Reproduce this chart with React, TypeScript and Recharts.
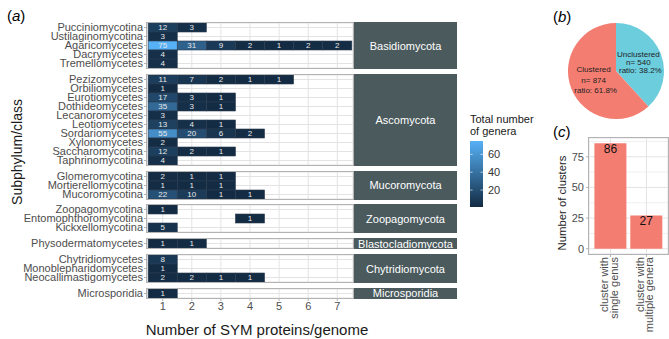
import React from 'react';
import {
  ScatterChart, Scatter, XAxis, YAxis, CartesianGrid,
  PieChart, Pie, Cell, BarChart, Bar, LabelList,
} from 'recharts';

// ---- data ----
const proteinCounts = [1, 2, 3, 4, 5, 6, 7];

const phyla = [
  'Basidiomycota', 'Ascomycota', 'Mucoromycota', 'Zoopagomycota',
  'Blastocladiomycota', 'Chytridiomycota', 'Microsporidia',
];

const basidiomycotaClasses = ['Pucciniomycotina', 'Ustilaginomycotina', 'Agaricomycetes', 'Dacrymycetes', 'Tremellomycetes'];
const basidiomycotaCounts = [[12, 3], [3], [75, 31, 9, 2, 1, 2, 2], [4], [4]];

const ascomycotaClasses = [
  'Pezizomycetes', 'Orbiliomycetes', 'Eurotiomycetes', 'Dothideomycetes', 'Lecanoromycetes',
  'Leotiomycetes', 'Sordariomycetes', 'Xylonomycetes', 'Saccharomycotina', 'Taphrinomycotina',
];
const ascomycotaCounts = [[11, 7, 2, 1, 1], [1], [17, 3, 1], [35, 3, 1], [3], [13, 4, 1], [55, 20, 6, 2], [2], [12, 2, 1], [4]];

const mucoromycotaClasses = ['Glomeromycotina', 'Mortierellomycotina', 'Mucoromycotina'];
const mucoromycotaCounts = [[2, 1, 1], [1, 1, 1], [22, 10, 1, 1]];

const zoopagomycotaClasses = ['Zoopagomycotina', 'Entomophthoromycotina', 'Kickxellomycotina'];
const zoopagomycotaCounts = [[1], [0, 0, 0, 1], [5]];

const blastocladiomycotaClasses = ['Physodermatomycetes'];
const blastocladiomycotaCounts = [[1, 1]];

const chytridiomycotaClasses = ['Chytridiomycetes', 'Monoblepharidomycetes', 'Neocallimastigomycetes'];
const chytridiomycotaCounts = [[8], [1], [2, 2, 1, 1]];

const microsporidiaClasses = ['Microsporidia'];
const microsporidiaCounts = [[1]];

const legendTicks = [20, 40, 60];

const clusterStatus = ['Unclustered', 'Clustered'];
const clusterGenomes = [540, 874];

const clusterTypes = ['cluster with\nsingle genus', 'cluster with\nmultiple genera'];
const clusterCounts = [86, 27];

// ---- layout / style ----
const FONT = '"Liberation Sans", Arial, Helvetica, sans-serif';
const AXIS_TEXT = '#4D4D4D';
const BORDER = '#B3B3B3';
const GRID = '#E3E3E3';
const STRIP = '#4A5A5D';
const LOW = [19, 43, 67];
const HIGH = [86, 177, 247];
const PIE_COLORS = ['#6CCDDD', '#F47D71'];
const BAR_COLOR = '#F47D71';

const PANEL_L = 147;
const PANEL_W = 206;
const X_MIN = 0.46;
const X_MAX = 7.54;
const ROW_H = 9;
const FIRST_TOP = 23;
const FACET_GAP = 6.8;
const TILE_W = PANEL_W / (X_MAX - X_MIN);

const facets = [
  { phylum: phyla[0], classes: basidiomycotaClasses, counts: basidiomycotaCounts },
  { phylum: phyla[1], classes: ascomycotaClasses, counts: ascomycotaCounts },
  { phylum: phyla[2], classes: mucoromycotaClasses, counts: mucoromycotaCounts },
  { phylum: phyla[3], classes: zoopagomycotaClasses, counts: zoopagomycotaCounts },
  { phylum: phyla[4], classes: blastocladiomycotaClasses, counts: blastocladiomycotaCounts },
  { phylum: phyla[5], classes: chytridiomycotaClasses, counts: chytridiomycotaCounts },
  { phylum: phyla[6], classes: microsporidiaClasses, counts: microsporidiaCounts },
];

const allCounts = facets.flatMap(f => f.counts.flat()).filter(v => v > 0);
const minCount = Math.min(...allCounts);
const maxCount = Math.max(...allCounts);

function tileFill(n: number) {
  const t = (n - minCount) / (maxCount - minCount);
  const c = LOW.map((lo, i) => Math.round(lo + (HIGH[i] - lo) * t));
  return `rgb(${c[0]},${c[1]},${c[2]})`;
}

const Tile = (props: any) => {
  const { cx, cy, payload } = props;
  return (
    <g>
      <rect x={cx - TILE_W / 2} y={cy - ROW_H / 2} width={TILE_W} height={ROW_H}
        fill={tileFill(payload.n)} stroke="#2C3E50" strokeWidth={0.6} />
      <text x={cx} y={cy + 2.9} textAnchor="middle" fontSize={8} fill="#E8E8E8">{payload.n}</text>
    </g>
  );
};

function Facet({ phylum, classes, counts, top, last }: any) {
  const n = classes.length;
  const plotH = n * ROW_H;
  const cells: any[] = [];
  counts.forEach((row: number[], i: number) =>
    row.forEach((v, j) => { if (v > 0) cells.push({ x: proteinCounts[j], y: i, n: v }); })
  );
  const rowTicks = classes.map((_: string, i: number) => i);
  return (
    <>
      <div style={{ position: 'absolute', left: 0, top: top - 1 }}>
        <ScatterChart width={PANEL_L + PANEL_W + 1} height={plotH + 1 + (last ? 18 : 1)}
          margin={{ top: 1, right: 1, bottom: last ? 0 : 1, left: 0 }}>
          <CartesianGrid stroke={GRID} />
          <XAxis type="number" dataKey="x" domain={[X_MIN, X_MAX]} ticks={proteinCounts}
            hide={!last} height={18} axisLine={false} tickLine={{ stroke: BORDER }} tickSize={3}
            tickMargin={1} interval={0} tick={{ fontSize: 11, fill: AXIS_TEXT }} />
          <YAxis type="number" dataKey="y" domain={[-0.5, n - 0.5]} reversed ticks={rowTicks}
            interval={0} width={PANEL_L} axisLine={false} tickLine={{ stroke: BORDER }} tickSize={3}
            tickMargin={1} tick={{ fontSize: 11, fill: AXIS_TEXT }}
            tickFormatter={(i: number) => classes[i]} />
          <Scatter data={cells} shape={Tile} isAnimationActive={false} />
        </ScatterChart>
      </div>
      <div style={{
        position: 'absolute', left: PANEL_L - 1, top: top - 1, width: PANEL_W, height: plotH,
        border: `1px solid ${BORDER}`, pointerEvents: 'none',
      }} />
      <div style={{
        position: 'absolute', left: 354, top: top - 1, width: 103, height: plotH + 2,
        background: STRIP, color: '#fff', fontSize: 11, display: 'flex',
        alignItems: 'center', justifyContent: 'center', whiteSpace: 'nowrap', overflow: 'visible',
      }}>{phylum}</div>
    </>
  );
}

const pieData = clusterStatus.map((s, i) => ({ status: s, value: clusterGenomes[i] }));
const pieTotal = clusterGenomes.reduce((a, b) => a + b, 0);
const RAD = Math.PI / 180;

const renderPieLabel = (props: any) => {
  const { cx, cy, midAngle, outerRadius, index } = props;
  const r = outerRadius * 0.5;
  const x = cx + r * Math.cos(-midAngle * RAD);
  const y = cy + r * Math.sin(-midAngle * RAD);
  const d = pieData[index];
  const lines = [d.status, `n= ${d.value}`, `ratio: ${(100 * d.value / pieTotal).toFixed(1)}%`];
  const step = index === 0 ? 7.8 : 10.5;
  return (
    <text textAnchor="middle" fontSize={8} fill="#1F1F1F">
      {lines.map((l, i) => (
        <tspan key={i} x={x + (i === 2 ? 2 : 0)} y={y + (i - 1) * step + 2.8}>{l}</tspan>
      ))}
    </text>
  );
};

const barData = clusterTypes.map((t, i) => ({ type: t, count: clusterCounts[i] }));

const ClusterTick = (props: any) => {
  const { x, y, payload } = props;
  const lines = String(payload.value).split('\n');
  return (
    <g transform={`translate(${x},${y})`}>
      <text transform="rotate(-90)" textAnchor="end" fontSize={11} fill={AXIS_TEXT}>
        {lines.map((l, i) => <tspan key={i} x={2} y={-2.5 + i * 9.5}>{l}</tspan>)}
      </text>
    </g>
  );
};

function Rotated({ cx, cy, size, children }: any) {
  return (
    <div style={{
      position: 'absolute', left: cx, top: cy, fontSize: size, whiteSpace: 'nowrap', lineHeight: 1,
      transform: 'translate(-50%, -50%) rotate(-90deg)', color: '#1A1A1A',
    }}>{children}</div>
  );
}

export default function App() {
  const tops: number[] = [];
  let acc = FIRST_TOP;
  facets.forEach(f => { tops.push(acc); acc += f.classes.length * ROW_H + FACET_GAP; });

  const barH = 141;
  const legendY = (v: number) => 66 * (1 - (v - minCount) / (maxCount - minCount));

  return (
    <div style={{
      position: 'absolute', left: 0, top: 0, width: 669, height: 339, background: '#fff',
      overflow: 'hidden', fontFamily: FONT,
    }}>
      {/* (a) heatmap */}
      <div style={{ position: 'absolute', left: 7, top: 8, fontSize: 15, lineHeight: 1 }}>(<i>a</i>)</div>
      {facets.map((f, i) => (
        <Facet key={f.phylum} {...f} top={tops[i]} last={i === facets.length - 1} />
      ))}
      <Rotated cx={17} cy={152} size={14}>Subphylum/class</Rotated>
      <div style={{
        position: 'absolute', left: 257, top: 329, transform: 'translate(-50%, -50%)',
        fontSize: 15, whiteSpace: 'nowrap', lineHeight: 1, color: '#1A1A1A',
      }}>Number of SYM proteins/genome</div>

      {/* colour bar legend */}
      <div style={{ position: 'absolute', left: 470, top: 113, fontSize: 11, lineHeight: '12px', color: '#1A1A1A' }}>
        Total number<br />of genera
      </div>
      <svg style={{ position: 'absolute', left: 470, top: 141 }} width={40} height={70}>
        <defs>
          <linearGradient id="genera" x1="0" y1="1" x2="0" y2="0">
            <stop offset="0" stopColor={`rgb(${LOW.join(',')})`} />
            <stop offset="1" stopColor={`rgb(${HIGH.join(',')})`} />
          </linearGradient>
        </defs>
        <rect x={0} y={0} width={13} height={66} fill="url(#genera)" />
        {legendTicks.map(v => (
          <g key={v}>
            <line x1={0} x2={2.6} y1={legendY(v)} y2={legendY(v)} stroke="#fff" strokeWidth={0.6} />
            <line x1={10.4} x2={13} y1={legendY(v)} y2={legendY(v)} stroke="#fff" strokeWidth={0.6} />
            <text x={18} y={legendY(v) + 4} fontSize={11} fill="#333">{v}</text>
          </g>
        ))}
      </svg>

      {/* (b) pie */}
      <div style={{ position: 'absolute', left: 553, top: 9, fontSize: 15, lineHeight: 1 }}>(<i>b</i>)</div>
      <div style={{ position: 'absolute', left: 560, top: 0 }}>
        <PieChart width={109} height={130} margin={{ top: 0, right: 0, bottom: 0, left: 0 }}>
          <Pie data={pieData} dataKey="value" nameKey="status" cx={56} cy={71} outerRadius={48}
            startAngle={90} endAngle={-270} stroke="none" labelLine={false}
            label={renderPieLabel} isAnimationActive={false}>
            {pieData.map((d, i) => <Cell key={d.status} fill={PIE_COLORS[i]} />)}
          </Pie>
        </PieChart>
      </div>

      {/* (c) bars */}
      <div style={{ position: 'absolute', left: 553, top: 124, fontSize: 15, lineHeight: 1 }}>(<i>c</i>)</div>
      <div style={{ position: 'absolute', left: 540, top: 130 }}>
        <BarChart width={129} height={8 + 116 + 80} data={barData} barCategoryGap="5%"
          margin={{ top: 8, right: 1, bottom: 0, left: 0 }}>
          <CartesianGrid stroke="#F0F0F0" horizontalValues={[12.5, 37.5, 62.5, 87.5]} vertical={false} />
          <CartesianGrid stroke={GRID} />
          <XAxis dataKey="type" padding={{ left: 3.6, right: 3.6 }} height={80} interval={0}
            axisLine={false} tickLine={{ stroke: BORDER }} tickSize={3} tickMargin={2} tick={<ClusterTick />} />
          <YAxis type="number" domain={[-4.3, 90.3]} ticks={[0, 25, 50, 75]} width={49}
            axisLine={false} tickLine={{ stroke: BORDER }} tickSize={3} tickMargin={2}
            tick={{ fontSize: 11, fill: AXIS_TEXT }} />
          <Bar dataKey="count" fill={BAR_COLOR} isAnimationActive={false}>
            <LabelList dataKey="count" position="insideTop" offset={1} fontSize={12} fill="#111" />
          </Bar>
        </BarChart>
      </div>
      <div style={{
        position: 'absolute', left: 588, top: 137, width: 79, height: 116,
        border: `1px solid ${BORDER}`, pointerEvents: 'none',
      }} />
      <Rotated cx={563} cy={203} size={11.3}>Number of clusters</Rotated>
    </div>
  );
}
